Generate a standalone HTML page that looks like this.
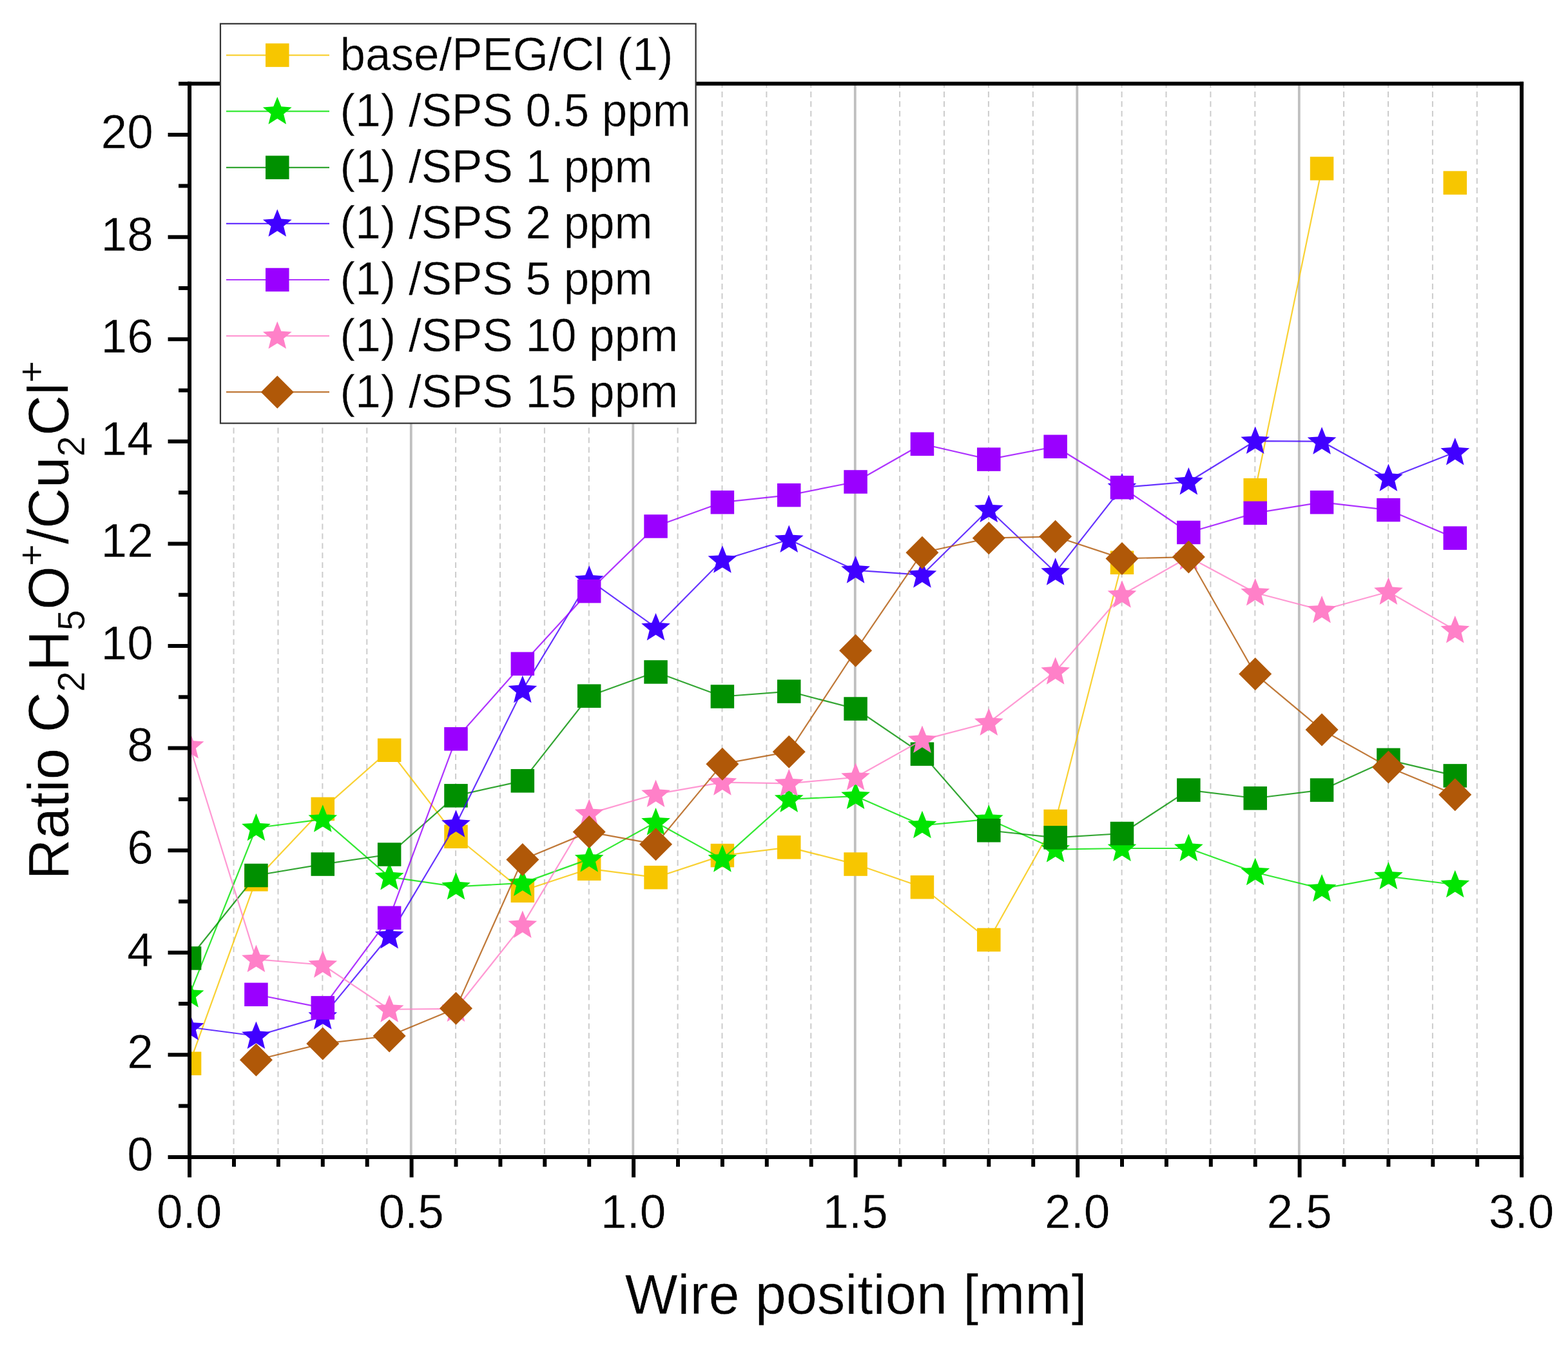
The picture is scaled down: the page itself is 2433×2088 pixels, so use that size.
<!DOCTYPE html>
<html><head><meta charset="utf-8"><title>Ratio vs wire position</title>
<style>html,body{margin:0;padding:0;background:#fff;}svg{display:block;}text{font-family:'Liberation Sans', Arial, sans-serif;fill:#000;stroke:#fff;stroke-width:0.5px;stroke-linejoin:round;}</style></head><body>
<svg width="2433" height="2088" viewBox="0 0 2433 2088">
<rect x="0" y="0" width="2433" height="2088" fill="#fff"/>
<defs><clipPath id="pa"><rect x="294.10" y="129.80" width="2067.00" height="1665.10"/></clipPath></defs>
<g><line x1="362.60" y1="129.80" x2="362.60" y2="1794.90" stroke="#cccccc" stroke-width="2.0" stroke-dasharray="8.8 6.1" stroke-dashoffset="2.6"/><line x1="431.50" y1="129.80" x2="431.50" y2="1794.90" stroke="#cccccc" stroke-width="2.0" stroke-dasharray="8.8 6.1" stroke-dashoffset="2.6"/><line x1="500.40" y1="129.80" x2="500.40" y2="1794.90" stroke="#cccccc" stroke-width="2.0" stroke-dasharray="8.8 6.1" stroke-dashoffset="2.6"/><line x1="569.30" y1="129.80" x2="569.30" y2="1794.90" stroke="#cccccc" stroke-width="2.0" stroke-dasharray="8.8 6.1" stroke-dashoffset="2.6"/><line x1="637.80" y1="129.80" x2="637.80" y2="1794.90" stroke="#bfbfbf" stroke-width="3.8"/><line x1="707.10" y1="129.80" x2="707.10" y2="1794.90" stroke="#cccccc" stroke-width="2.0" stroke-dasharray="8.8 6.1" stroke-dashoffset="2.6"/><line x1="776.00" y1="129.80" x2="776.00" y2="1794.90" stroke="#cccccc" stroke-width="2.0" stroke-dasharray="8.8 6.1" stroke-dashoffset="2.6"/><line x1="844.90" y1="129.80" x2="844.90" y2="1794.90" stroke="#cccccc" stroke-width="2.0" stroke-dasharray="8.8 6.1" stroke-dashoffset="2.6"/><line x1="913.80" y1="129.80" x2="913.80" y2="1794.90" stroke="#cccccc" stroke-width="2.0" stroke-dasharray="8.8 6.1" stroke-dashoffset="2.6"/><line x1="982.30" y1="129.80" x2="982.30" y2="1794.90" stroke="#bfbfbf" stroke-width="3.8"/><line x1="1051.60" y1="129.80" x2="1051.60" y2="1794.90" stroke="#cccccc" stroke-width="2.0" stroke-dasharray="8.8 6.1" stroke-dashoffset="2.6"/><line x1="1120.50" y1="129.80" x2="1120.50" y2="1794.90" stroke="#cccccc" stroke-width="2.0" stroke-dasharray="8.8 6.1" stroke-dashoffset="2.6"/><line x1="1189.40" y1="129.80" x2="1189.40" y2="1794.90" stroke="#cccccc" stroke-width="2.0" stroke-dasharray="8.8 6.1" stroke-dashoffset="2.6"/><line x1="1258.30" y1="129.80" x2="1258.30" y2="1794.90" stroke="#cccccc" stroke-width="2.0" stroke-dasharray="8.8 6.1" stroke-dashoffset="2.6"/><line x1="1326.80" y1="129.80" x2="1326.80" y2="1794.90" stroke="#bfbfbf" stroke-width="3.8"/><line x1="1396.10" y1="129.80" x2="1396.10" y2="1794.90" stroke="#cccccc" stroke-width="2.0" stroke-dasharray="8.8 6.1" stroke-dashoffset="2.6"/><line x1="1465.00" y1="129.80" x2="1465.00" y2="1794.90" stroke="#cccccc" stroke-width="2.0" stroke-dasharray="8.8 6.1" stroke-dashoffset="2.6"/><line x1="1533.90" y1="129.80" x2="1533.90" y2="1794.90" stroke="#cccccc" stroke-width="2.0" stroke-dasharray="8.8 6.1" stroke-dashoffset="2.6"/><line x1="1602.80" y1="129.80" x2="1602.80" y2="1794.90" stroke="#cccccc" stroke-width="2.0" stroke-dasharray="8.8 6.1" stroke-dashoffset="2.6"/><line x1="1671.30" y1="129.80" x2="1671.30" y2="1794.90" stroke="#bfbfbf" stroke-width="3.8"/><line x1="1740.60" y1="129.80" x2="1740.60" y2="1794.90" stroke="#cccccc" stroke-width="2.0" stroke-dasharray="8.8 6.1" stroke-dashoffset="2.6"/><line x1="1809.50" y1="129.80" x2="1809.50" y2="1794.90" stroke="#cccccc" stroke-width="2.0" stroke-dasharray="8.8 6.1" stroke-dashoffset="2.6"/><line x1="1878.40" y1="129.80" x2="1878.40" y2="1794.90" stroke="#cccccc" stroke-width="2.0" stroke-dasharray="8.8 6.1" stroke-dashoffset="2.6"/><line x1="1947.30" y1="129.80" x2="1947.30" y2="1794.90" stroke="#cccccc" stroke-width="2.0" stroke-dasharray="8.8 6.1" stroke-dashoffset="2.6"/><line x1="2015.80" y1="129.80" x2="2015.80" y2="1794.90" stroke="#bfbfbf" stroke-width="3.8"/><line x1="2085.10" y1="129.80" x2="2085.10" y2="1794.90" stroke="#cccccc" stroke-width="2.0" stroke-dasharray="8.8 6.1" stroke-dashoffset="2.6"/><line x1="2154.00" y1="129.80" x2="2154.00" y2="1794.90" stroke="#cccccc" stroke-width="2.0" stroke-dasharray="8.8 6.1" stroke-dashoffset="2.6"/><line x1="2222.90" y1="129.80" x2="2222.90" y2="1794.90" stroke="#cccccc" stroke-width="2.0" stroke-dasharray="8.8 6.1" stroke-dashoffset="2.6"/><line x1="2291.80" y1="129.80" x2="2291.80" y2="1794.90" stroke="#cccccc" stroke-width="2.0" stroke-dasharray="8.8 6.1" stroke-dashoffset="2.6"/></g>
<g clip-path="url(#pa)"><polyline points="294.10,1649.80 397.45,1364.35 500.80,1254.93 604.15,1163.75 707.50,1297.75 810.85,1381.80 914.20,1347.70 1017.55,1361.18 1120.90,1327.09 1224.25,1314.40 1327.60,1340.57 1430.95,1376.25 1534.30,1457.92 1637.65,1273.96 1741.00,872.75" fill="none" stroke="#F7C600" stroke-width="2.20" stroke-opacity="0.8" stroke-linejoin="round"/><polyline points="1947.70,760.16 2051.05,261.42" fill="none" stroke="#F7C600" stroke-width="2.20" stroke-opacity="0.8" stroke-linejoin="round"/><rect x="275.85" y="1631.55" width="36.50" height="36.50" fill="#F7C600"/><rect x="379.20" y="1346.10" width="36.50" height="36.50" fill="#F7C600"/><rect x="482.55" y="1236.68" width="36.50" height="36.50" fill="#F7C600"/><rect x="585.90" y="1145.50" width="36.50" height="36.50" fill="#F7C600"/><rect x="689.25" y="1279.50" width="36.50" height="36.50" fill="#F7C600"/><rect x="792.60" y="1363.55" width="36.50" height="36.50" fill="#F7C600"/><rect x="895.95" y="1329.45" width="36.50" height="36.50" fill="#F7C600"/><rect x="999.30" y="1342.93" width="36.50" height="36.50" fill="#F7C600"/><rect x="1102.65" y="1308.84" width="36.50" height="36.50" fill="#F7C600"/><rect x="1206.00" y="1296.15" width="36.50" height="36.50" fill="#F7C600"/><rect x="1309.35" y="1322.32" width="36.50" height="36.50" fill="#F7C600"/><rect x="1412.70" y="1358.00" width="36.50" height="36.50" fill="#F7C600"/><rect x="1516.05" y="1439.67" width="36.50" height="36.50" fill="#F7C600"/><rect x="1619.40" y="1255.71" width="36.50" height="36.50" fill="#F7C600"/><rect x="1722.75" y="854.50" width="36.50" height="36.50" fill="#F7C600"/><rect x="1929.45" y="741.91" width="36.50" height="36.50" fill="#F7C600"/><rect x="2032.80" y="243.17" width="36.50" height="36.50" fill="#F7C600"/><rect x="2239.50" y="265.37" width="36.50" height="36.50" fill="#F7C600"/><polyline points="294.10,1542.76 397.45,1284.27 500.80,1270.79 604.15,1360.39 707.50,1375.45 810.85,1369.90 914.20,1332.64 1017.55,1275.55 1120.90,1332.64 1224.25,1239.87 1327.60,1235.11 1430.95,1280.30 1534.30,1270.79 1637.65,1317.57 1741.00,1315.99 1844.35,1315.99 1947.70,1353.25 2051.05,1378.62 2154.40,1359.60 2257.75,1372.28" fill="none" stroke="#00E400" stroke-width="2.20" stroke-opacity="0.8" stroke-linejoin="round"/><polygon points="294.10,1520.26 300.18,1535.39 316.45,1536.49 303.93,1546.95 307.91,1562.77 294.10,1554.10 280.29,1562.77 284.27,1546.95 271.75,1536.49 288.02,1535.39" fill="#00E400"/><polygon points="397.45,1261.77 403.53,1276.90 419.80,1278.01 407.28,1288.46 411.26,1304.28 397.45,1295.61 383.64,1304.28 387.62,1288.46 375.10,1278.01 391.37,1276.90" fill="#00E400"/><polygon points="500.80,1248.29 506.88,1263.42 523.15,1264.53 510.63,1274.99 514.61,1290.80 500.80,1282.13 486.99,1290.80 490.97,1274.99 478.45,1264.53 494.72,1263.42" fill="#00E400"/><polygon points="604.15,1337.89 610.23,1353.02 626.50,1354.13 613.98,1364.58 617.96,1380.40 604.15,1371.73 590.34,1380.40 594.32,1364.58 581.80,1354.13 598.07,1353.02" fill="#00E400"/><polygon points="707.50,1352.95 713.58,1368.09 729.85,1369.19 717.33,1379.65 721.31,1395.47 707.50,1386.79 693.69,1395.47 697.67,1379.65 685.15,1369.19 701.42,1368.09" fill="#00E400"/><polygon points="810.85,1347.40 816.93,1362.54 833.20,1363.64 820.68,1374.10 824.66,1389.91 810.85,1381.24 797.04,1389.91 801.02,1374.10 788.50,1363.64 804.77,1362.54" fill="#00E400"/><polygon points="914.20,1310.14 920.28,1325.27 936.55,1326.37 924.03,1336.83 928.01,1352.65 914.20,1343.98 900.39,1352.65 904.37,1336.83 891.85,1326.37 908.12,1325.27" fill="#00E400"/><polygon points="1017.55,1253.05 1023.63,1268.18 1039.90,1269.29 1027.38,1279.74 1031.36,1295.56 1017.55,1286.89 1003.74,1295.56 1007.72,1279.74 995.20,1269.29 1011.47,1268.18" fill="#00E400"/><polygon points="1120.90,1310.14 1126.98,1325.27 1143.25,1326.37 1130.73,1336.83 1134.71,1352.65 1120.90,1343.98 1107.09,1352.65 1111.07,1336.83 1098.55,1326.37 1114.82,1325.27" fill="#00E400"/><polygon points="1224.25,1217.37 1230.33,1232.50 1246.60,1233.60 1234.08,1244.06 1238.06,1259.88 1224.25,1251.21 1210.44,1259.88 1214.42,1244.06 1201.90,1233.60 1218.17,1232.50" fill="#00E400"/><polygon points="1327.60,1212.61 1333.68,1227.74 1349.95,1228.85 1337.43,1239.30 1341.41,1255.12 1327.60,1246.45 1313.79,1255.12 1317.77,1239.30 1305.25,1228.85 1321.52,1227.74" fill="#00E400"/><polygon points="1430.95,1257.80 1437.03,1272.94 1453.30,1274.04 1440.78,1284.50 1444.76,1300.32 1430.95,1291.64 1417.14,1300.32 1421.12,1284.50 1408.60,1274.04 1424.87,1272.94" fill="#00E400"/><polygon points="1534.30,1248.29 1540.38,1263.42 1556.65,1264.53 1544.13,1274.99 1548.11,1290.80 1534.30,1282.13 1520.49,1290.80 1524.47,1274.99 1511.95,1264.53 1528.22,1263.42" fill="#00E400"/><polygon points="1637.65,1295.07 1643.73,1310.21 1660.00,1311.31 1647.48,1321.77 1651.46,1337.58 1637.65,1328.91 1623.84,1337.58 1627.82,1321.77 1615.30,1311.31 1631.57,1310.21" fill="#00E400"/><polygon points="1741.00,1293.49 1747.08,1308.62 1763.35,1309.72 1750.83,1320.18 1754.81,1336.00 1741.00,1327.33 1727.19,1336.00 1731.17,1320.18 1718.65,1309.72 1734.92,1308.62" fill="#00E400"/><polygon points="1844.35,1293.49 1850.43,1308.62 1866.70,1309.72 1854.18,1320.18 1858.16,1336.00 1844.35,1327.33 1830.54,1336.00 1834.52,1320.18 1822.00,1309.72 1838.27,1308.62" fill="#00E400"/><polygon points="1947.70,1330.75 1953.78,1345.89 1970.05,1346.99 1957.53,1357.45 1961.51,1373.26 1947.70,1364.59 1933.89,1373.26 1937.87,1357.45 1925.35,1346.99 1941.62,1345.89" fill="#00E400"/><polygon points="2051.05,1356.12 2057.13,1371.26 2073.40,1372.36 2060.88,1382.82 2064.86,1398.64 2051.05,1389.96 2037.24,1398.64 2041.22,1382.82 2028.70,1372.36 2044.97,1371.26" fill="#00E400"/><polygon points="2154.40,1337.10 2160.48,1352.23 2176.75,1353.33 2164.23,1363.79 2168.21,1379.61 2154.40,1370.94 2140.59,1379.61 2144.57,1363.79 2132.05,1353.33 2148.32,1352.23" fill="#00E400"/><polygon points="2257.75,1349.78 2263.83,1364.92 2280.10,1366.02 2267.58,1376.48 2271.56,1392.29 2257.75,1383.62 2243.94,1392.29 2247.92,1376.48 2235.40,1366.02 2251.67,1364.92" fill="#00E400"/><polyline points="294.10,1486.46 397.45,1358.01 500.80,1340.57 604.15,1325.50 707.50,1234.32 810.85,1211.32 914.20,1079.70 1017.55,1042.43 1120.90,1080.49 1224.25,1072.56 1327.60,1099.52 1430.95,1169.69 1534.30,1288.23 1637.65,1299.33 1741.00,1292.99 1844.35,1225.59 1947.70,1238.28 2051.05,1225.59 2154.40,1178.81 2257.75,1203.39" fill="none" stroke="#009000" stroke-width="2.20" stroke-opacity="0.8" stroke-linejoin="round"/><rect x="275.85" y="1468.21" width="36.50" height="36.50" fill="#009000"/><rect x="379.20" y="1339.76" width="36.50" height="36.50" fill="#009000"/><rect x="482.55" y="1322.32" width="36.50" height="36.50" fill="#009000"/><rect x="585.90" y="1307.25" width="36.50" height="36.50" fill="#009000"/><rect x="689.25" y="1216.07" width="36.50" height="36.50" fill="#009000"/><rect x="792.60" y="1193.07" width="36.50" height="36.50" fill="#009000"/><rect x="895.95" y="1061.45" width="36.50" height="36.50" fill="#009000"/><rect x="999.30" y="1024.18" width="36.50" height="36.50" fill="#009000"/><rect x="1102.65" y="1062.24" width="36.50" height="36.50" fill="#009000"/><rect x="1206.00" y="1054.31" width="36.50" height="36.50" fill="#009000"/><rect x="1309.35" y="1081.27" width="36.50" height="36.50" fill="#009000"/><rect x="1412.70" y="1151.44" width="36.50" height="36.50" fill="#009000"/><rect x="1516.05" y="1269.98" width="36.50" height="36.50" fill="#009000"/><rect x="1619.40" y="1281.08" width="36.50" height="36.50" fill="#009000"/><rect x="1722.75" y="1274.74" width="36.50" height="36.50" fill="#009000"/><rect x="1826.10" y="1207.34" width="36.50" height="36.50" fill="#009000"/><rect x="1929.45" y="1220.03" width="36.50" height="36.50" fill="#009000"/><rect x="2032.80" y="1207.34" width="36.50" height="36.50" fill="#009000"/><rect x="2136.15" y="1160.56" width="36.50" height="36.50" fill="#009000"/><rect x="2239.50" y="1185.14" width="36.50" height="36.50" fill="#009000"/><polyline points="294.10,1593.50 397.45,1606.98 500.80,1576.85 604.15,1451.57 707.50,1278.72 810.85,1070.19 914.20,899.71 1017.55,973.45 1120.90,868.79 1224.25,837.07 1327.60,884.65 1430.95,891.78 1534.30,790.29 1637.65,887.82 1741.00,756.19 1844.35,747.47 1947.70,684.04 2051.05,684.83 2154.40,741.92 2257.75,701.48" fill="none" stroke="#4000FF" stroke-width="2.20" stroke-opacity="0.8" stroke-linejoin="round"/><polygon points="294.10,1571.00 300.18,1586.14 316.45,1587.24 303.93,1597.70 307.91,1613.51 294.10,1604.84 280.29,1613.51 284.27,1597.70 271.75,1587.24 288.02,1586.14" fill="#4000FF"/><polygon points="397.45,1584.48 403.53,1599.62 419.80,1600.72 407.28,1611.18 411.26,1626.99 397.45,1618.32 383.64,1626.99 387.62,1611.18 375.10,1600.72 391.37,1599.62" fill="#4000FF"/><polygon points="500.80,1554.35 506.88,1569.49 523.15,1570.59 510.63,1581.05 514.61,1596.86 500.80,1588.19 486.99,1596.86 490.97,1581.05 478.45,1570.59 494.72,1569.49" fill="#4000FF"/><polygon points="604.15,1429.07 610.23,1444.21 626.50,1445.31 613.98,1455.77 617.96,1471.58 604.15,1462.91 590.34,1471.58 594.32,1455.77 581.80,1445.31 598.07,1444.21" fill="#4000FF"/><polygon points="707.50,1256.22 713.58,1271.35 729.85,1272.46 717.33,1282.91 721.31,1298.73 707.50,1290.06 693.69,1298.73 697.67,1282.91 685.15,1272.46 701.42,1271.35" fill="#4000FF"/><polygon points="810.85,1047.69 816.93,1062.82 833.20,1063.92 820.68,1074.38 824.66,1090.20 810.85,1081.53 797.04,1090.20 801.02,1074.38 788.50,1063.92 804.77,1062.82" fill="#4000FF"/><polygon points="914.20,877.21 920.28,892.35 936.55,893.45 924.03,903.91 928.01,919.72 914.20,911.05 900.39,919.72 904.37,903.91 891.85,893.45 908.12,892.35" fill="#4000FF"/><polygon points="1017.55,950.95 1023.63,966.09 1039.90,967.19 1027.38,977.65 1031.36,993.46 1017.55,984.79 1003.74,993.46 1007.72,977.65 995.20,967.19 1011.47,966.09" fill="#4000FF"/><polygon points="1120.90,846.29 1126.98,861.42 1143.25,862.53 1130.73,872.98 1134.71,888.80 1120.90,880.13 1107.09,888.80 1111.07,872.98 1098.55,862.53 1114.82,861.42" fill="#4000FF"/><polygon points="1224.25,814.57 1230.33,829.71 1246.60,830.81 1234.08,841.27 1238.06,857.08 1224.25,848.41 1210.44,857.08 1214.42,841.27 1201.90,830.81 1218.17,829.71" fill="#4000FF"/><polygon points="1327.60,862.15 1333.68,877.28 1349.95,878.38 1337.43,888.84 1341.41,904.66 1327.60,895.99 1313.79,904.66 1317.77,888.84 1305.25,878.38 1321.52,877.28" fill="#4000FF"/><polygon points="1430.95,869.28 1437.03,884.42 1453.30,885.52 1440.78,895.98 1444.76,911.79 1430.95,903.12 1417.14,911.79 1421.12,895.98 1408.60,885.52 1424.87,884.42" fill="#4000FF"/><polygon points="1534.30,767.79 1540.38,782.92 1556.65,784.03 1544.13,794.48 1548.11,810.30 1534.30,801.63 1520.49,810.30 1524.47,794.48 1511.95,784.03 1528.22,782.92" fill="#4000FF"/><polygon points="1637.65,865.32 1643.73,880.45 1660.00,881.56 1647.48,892.01 1651.46,907.83 1637.65,899.16 1623.84,907.83 1627.82,892.01 1615.30,881.56 1631.57,880.45" fill="#4000FF"/><polygon points="1741.00,733.69 1747.08,748.83 1763.35,749.93 1750.83,760.39 1754.81,776.21 1741.00,767.53 1727.19,776.21 1731.17,760.39 1718.65,749.93 1734.92,748.83" fill="#4000FF"/><polygon points="1844.35,724.97 1850.43,740.11 1866.70,741.21 1854.18,751.67 1858.16,767.48 1844.35,758.81 1830.54,767.48 1834.52,751.67 1822.00,741.21 1838.27,740.11" fill="#4000FF"/><polygon points="1947.70,661.54 1953.78,676.68 1970.05,677.78 1957.53,688.24 1961.51,704.05 1947.70,695.38 1933.89,704.05 1937.87,688.24 1925.35,677.78 1941.62,676.68" fill="#4000FF"/><polygon points="2051.05,662.33 2057.13,677.47 2073.40,678.57 2060.88,689.03 2064.86,704.85 2051.05,696.17 2037.24,704.85 2041.22,689.03 2028.70,678.57 2044.97,677.47" fill="#4000FF"/><polygon points="2154.40,719.42 2160.48,734.56 2176.75,735.66 2164.23,746.12 2168.21,761.93 2154.40,753.26 2140.59,761.93 2144.57,746.12 2132.05,735.66 2148.32,734.56" fill="#4000FF"/><polygon points="2257.75,678.98 2263.83,694.12 2280.10,695.22 2267.58,705.68 2271.56,721.50 2257.75,712.82 2243.94,721.50 2247.92,705.68 2235.40,695.22 2251.67,694.12" fill="#4000FF"/><polyline points="397.45,1542.76 500.80,1563.37 604.15,1423.82 707.50,1146.30 810.85,1029.75 914.20,917.15 1017.55,816.46 1120.90,779.19 1224.25,768.09 1327.60,747.47 1430.95,688.80 1534.30,712.59 1637.65,692.76 1741.00,756.19 1844.35,825.97 1947.70,795.84 2051.05,779.19 2154.40,791.08 2257.75,834.69" fill="none" stroke="#9A00FF" stroke-width="2.20" stroke-opacity="0.8" stroke-linejoin="round"/><rect x="379.20" y="1524.51" width="36.50" height="36.50" fill="#9A00FF"/><rect x="482.55" y="1545.12" width="36.50" height="36.50" fill="#9A00FF"/><rect x="585.90" y="1405.57" width="36.50" height="36.50" fill="#9A00FF"/><rect x="689.25" y="1128.05" width="36.50" height="36.50" fill="#9A00FF"/><rect x="792.60" y="1011.50" width="36.50" height="36.50" fill="#9A00FF"/><rect x="895.95" y="898.90" width="36.50" height="36.50" fill="#9A00FF"/><rect x="999.30" y="798.21" width="36.50" height="36.50" fill="#9A00FF"/><rect x="1102.65" y="760.94" width="36.50" height="36.50" fill="#9A00FF"/><rect x="1206.00" y="749.84" width="36.50" height="36.50" fill="#9A00FF"/><rect x="1309.35" y="729.22" width="36.50" height="36.50" fill="#9A00FF"/><rect x="1412.70" y="670.55" width="36.50" height="36.50" fill="#9A00FF"/><rect x="1516.05" y="694.34" width="36.50" height="36.50" fill="#9A00FF"/><rect x="1619.40" y="674.51" width="36.50" height="36.50" fill="#9A00FF"/><rect x="1722.75" y="737.94" width="36.50" height="36.50" fill="#9A00FF"/><rect x="1826.10" y="807.72" width="36.50" height="36.50" fill="#9A00FF"/><rect x="1929.45" y="777.59" width="36.50" height="36.50" fill="#9A00FF"/><rect x="2032.80" y="760.94" width="36.50" height="36.50" fill="#9A00FF"/><rect x="2136.15" y="772.83" width="36.50" height="36.50" fill="#9A00FF"/><rect x="2239.50" y="816.44" width="36.50" height="36.50" fill="#9A00FF"/><polyline points="294.10,1156.61 397.45,1488.05 500.80,1496.77 604.15,1565.75 707.50,1564.96 810.85,1434.92 914.20,1262.07 1017.55,1231.94 1120.90,1213.70 1224.25,1215.29 1327.60,1205.77 1430.95,1147.89 1534.30,1120.93 1637.65,1041.64 1741.00,922.70 1844.35,864.03 1947.70,919.53 2051.05,946.49 2154.40,917.95 2257.75,977.42" fill="none" stroke="#FF80C8" stroke-width="2.20" stroke-opacity="0.8" stroke-linejoin="round"/><polygon points="294.10,1134.11 300.18,1149.25 316.45,1150.35 303.93,1160.81 307.91,1176.62 294.10,1167.95 280.29,1176.62 284.27,1160.81 271.75,1150.35 288.02,1149.25" fill="#FF80C8"/><polygon points="397.45,1465.55 403.53,1480.68 419.80,1481.78 407.28,1492.24 411.26,1508.06 397.45,1499.39 383.64,1508.06 387.62,1492.24 375.10,1481.78 391.37,1480.68" fill="#FF80C8"/><polygon points="500.80,1474.27 506.88,1489.40 523.15,1490.51 510.63,1500.96 514.61,1516.78 500.80,1508.11 486.99,1516.78 490.97,1500.96 478.45,1490.51 494.72,1489.40" fill="#FF80C8"/><polygon points="604.15,1543.25 610.23,1558.39 626.50,1559.49 613.98,1569.95 617.96,1585.76 604.15,1577.09 590.34,1585.76 594.32,1569.95 581.80,1559.49 598.07,1558.39" fill="#FF80C8"/><polygon points="707.50,1542.46 713.58,1557.59 729.85,1558.70 717.33,1569.15 721.31,1584.97 707.50,1576.30 693.69,1584.97 697.67,1569.15 685.15,1558.70 701.42,1557.59" fill="#FF80C8"/><polygon points="810.85,1412.42 816.93,1427.56 833.20,1428.66 820.68,1439.12 824.66,1454.93 810.85,1446.26 797.04,1454.93 801.02,1439.12 788.50,1428.66 804.77,1427.56" fill="#FF80C8"/><polygon points="914.20,1239.57 920.28,1254.70 936.55,1255.81 924.03,1266.26 928.01,1282.08 914.20,1273.41 900.39,1282.08 904.37,1266.26 891.85,1255.81 908.12,1254.70" fill="#FF80C8"/><polygon points="1017.55,1209.44 1023.63,1224.57 1039.90,1225.68 1027.38,1236.13 1031.36,1251.95 1017.55,1243.28 1003.74,1251.95 1007.72,1236.13 995.20,1225.68 1011.47,1224.57" fill="#FF80C8"/><polygon points="1120.90,1191.20 1126.98,1206.34 1143.25,1207.44 1130.73,1217.90 1134.71,1233.71 1120.90,1225.04 1107.09,1233.71 1111.07,1217.90 1098.55,1207.44 1114.82,1206.34" fill="#FF80C8"/><polygon points="1224.25,1192.79 1230.33,1207.92 1246.60,1209.02 1234.08,1219.48 1238.06,1235.30 1224.25,1226.63 1210.44,1235.30 1214.42,1219.48 1201.90,1209.02 1218.17,1207.92" fill="#FF80C8"/><polygon points="1327.60,1183.27 1333.68,1198.41 1349.95,1199.51 1337.43,1209.97 1341.41,1225.78 1327.60,1217.11 1313.79,1225.78 1317.77,1209.97 1305.25,1199.51 1321.52,1198.41" fill="#FF80C8"/><polygon points="1430.95,1125.39 1437.03,1140.52 1453.30,1141.63 1440.78,1152.08 1444.76,1167.90 1430.95,1159.23 1417.14,1167.90 1421.12,1152.08 1408.60,1141.63 1424.87,1140.52" fill="#FF80C8"/><polygon points="1534.30,1098.43 1540.38,1113.57 1556.65,1114.67 1544.13,1125.13 1548.11,1140.94 1534.30,1132.27 1520.49,1140.94 1524.47,1125.13 1511.95,1114.67 1528.22,1113.57" fill="#FF80C8"/><polygon points="1637.65,1019.14 1643.73,1034.28 1660.00,1035.38 1647.48,1045.84 1651.46,1061.65 1637.65,1052.98 1623.84,1061.65 1627.82,1045.84 1615.30,1035.38 1631.57,1034.28" fill="#FF80C8"/><polygon points="1741.00,900.20 1747.08,915.34 1763.35,916.44 1750.83,926.90 1754.81,942.72 1741.00,934.04 1727.19,942.72 1731.17,926.90 1718.65,916.44 1734.92,915.34" fill="#FF80C8"/><polygon points="1844.35,841.53 1850.43,856.66 1866.70,857.77 1854.18,868.23 1858.16,884.04 1844.35,875.37 1830.54,884.04 1834.52,868.23 1822.00,857.77 1838.27,856.66" fill="#FF80C8"/><polygon points="1947.70,897.03 1953.78,912.17 1970.05,913.27 1957.53,923.73 1961.51,939.55 1947.70,930.87 1933.89,939.55 1937.87,923.73 1925.35,913.27 1941.62,912.17" fill="#FF80C8"/><polygon points="2051.05,923.99 2057.13,939.13 2073.40,940.23 2060.88,950.69 2064.86,966.50 2051.05,957.83 2037.24,966.50 2041.22,950.69 2028.70,940.23 2044.97,939.13" fill="#FF80C8"/><polygon points="2154.40,895.45 2160.48,910.58 2176.75,911.69 2164.23,922.14 2168.21,937.96 2154.40,929.29 2140.59,937.96 2144.57,922.14 2132.05,911.69 2148.32,910.58" fill="#FF80C8"/><polygon points="2257.75,954.92 2263.83,970.05 2280.10,971.15 2267.58,981.61 2271.56,997.43 2257.75,988.76 2243.94,997.43 2247.92,981.61 2235.40,971.15 2251.67,970.05" fill="#FF80C8"/><polyline points="397.45,1644.25 500.80,1618.88 604.15,1606.98 707.50,1564.16 810.85,1333.43 914.20,1290.61 1017.55,1309.64 1120.90,1185.16 1224.25,1166.13 1327.60,1009.13 1430.95,857.29 1534.30,834.69 1637.65,832.31 1741.00,866.41 1844.35,864.03 1947.70,1045.61 2051.05,1132.03 2154.40,1189.91 2257.75,1232.73" fill="none" stroke="#B05808" stroke-width="2.20" stroke-opacity="0.8" stroke-linejoin="round"/><polygon points="397.45,1618.75 422.95,1644.25 397.45,1669.75 371.95,1644.25" fill="#B05808"/><polygon points="500.80,1593.38 526.30,1618.88 500.80,1644.38 475.30,1618.88" fill="#B05808"/><polygon points="604.15,1581.48 629.65,1606.98 604.15,1632.48 578.65,1606.98" fill="#B05808"/><polygon points="707.50,1538.66 733.00,1564.16 707.50,1589.66 682.00,1564.16" fill="#B05808"/><polygon points="810.85,1307.93 836.35,1333.43 810.85,1358.93 785.35,1333.43" fill="#B05808"/><polygon points="914.20,1265.11 939.70,1290.61 914.20,1316.11 888.70,1290.61" fill="#B05808"/><polygon points="1017.55,1284.14 1043.05,1309.64 1017.55,1335.14 992.05,1309.64" fill="#B05808"/><polygon points="1120.90,1159.66 1146.40,1185.16 1120.90,1210.66 1095.40,1185.16" fill="#B05808"/><polygon points="1224.25,1140.63 1249.75,1166.13 1224.25,1191.63 1198.75,1166.13" fill="#B05808"/><polygon points="1327.60,983.63 1353.10,1009.13 1327.60,1034.63 1302.10,1009.13" fill="#B05808"/><polygon points="1430.95,831.79 1456.45,857.29 1430.95,882.79 1405.45,857.29" fill="#B05808"/><polygon points="1534.30,809.19 1559.80,834.69 1534.30,860.19 1508.80,834.69" fill="#B05808"/><polygon points="1637.65,806.81 1663.15,832.31 1637.65,857.81 1612.15,832.31" fill="#B05808"/><polygon points="1741.00,840.91 1766.50,866.41 1741.00,891.91 1715.50,866.41" fill="#B05808"/><polygon points="1844.35,838.53 1869.85,864.03 1844.35,889.53 1818.85,864.03" fill="#B05808"/><polygon points="1947.70,1020.11 1973.20,1045.61 1947.70,1071.11 1922.20,1045.61" fill="#B05808"/><polygon points="2051.05,1106.53 2076.55,1132.03 2051.05,1157.53 2025.55,1132.03" fill="#B05808"/><polygon points="2154.40,1164.41 2179.90,1189.91 2154.40,1215.41 2128.90,1189.91" fill="#B05808"/><polygon points="2257.75,1207.23 2283.25,1232.73 2257.75,1258.23 2232.25,1232.73" fill="#B05808"/></g>
<g><line x1="294.10" y1="126.80" x2="294.10" y2="1797.90" stroke="#000" stroke-width="6.00"/><line x1="2361.10" y1="126.80" x2="2361.10" y2="1797.90" stroke="#000" stroke-width="6.00"/><line x1="291.10" y1="1794.90" x2="2364.10" y2="1794.90" stroke="#000" stroke-width="6.00"/><line x1="291.10" y1="129.80" x2="2364.10" y2="129.80" stroke="#000" stroke-width="6.00"/><line x1="260.60" y1="1794.90" x2="294.10" y2="1794.90" stroke="#000" stroke-width="6.00"/><line x1="277.10" y1="1715.61" x2="294.10" y2="1715.61" stroke="#000" stroke-width="6.00"/><line x1="260.60" y1="1636.32" x2="294.10" y2="1636.32" stroke="#000" stroke-width="6.00"/><line x1="277.10" y1="1557.03" x2="294.10" y2="1557.03" stroke="#000" stroke-width="6.00"/><line x1="260.60" y1="1477.74" x2="294.10" y2="1477.74" stroke="#000" stroke-width="6.00"/><line x1="277.10" y1="1398.45" x2="294.10" y2="1398.45" stroke="#000" stroke-width="6.00"/><line x1="260.60" y1="1319.16" x2="294.10" y2="1319.16" stroke="#000" stroke-width="6.00"/><line x1="277.10" y1="1239.87" x2="294.10" y2="1239.87" stroke="#000" stroke-width="6.00"/><line x1="260.60" y1="1160.58" x2="294.10" y2="1160.58" stroke="#000" stroke-width="6.00"/><line x1="277.10" y1="1081.29" x2="294.10" y2="1081.29" stroke="#000" stroke-width="6.00"/><line x1="260.60" y1="1002.00" x2="294.10" y2="1002.00" stroke="#000" stroke-width="6.00"/><line x1="277.10" y1="922.70" x2="294.10" y2="922.70" stroke="#000" stroke-width="6.00"/><line x1="260.60" y1="843.41" x2="294.10" y2="843.41" stroke="#000" stroke-width="6.00"/><line x1="277.10" y1="764.12" x2="294.10" y2="764.12" stroke="#000" stroke-width="6.00"/><line x1="260.60" y1="684.83" x2="294.10" y2="684.83" stroke="#000" stroke-width="6.00"/><line x1="277.10" y1="605.54" x2="294.10" y2="605.54" stroke="#000" stroke-width="6.00"/><line x1="260.60" y1="526.25" x2="294.10" y2="526.25" stroke="#000" stroke-width="6.00"/><line x1="277.10" y1="446.96" x2="294.10" y2="446.96" stroke="#000" stroke-width="6.00"/><line x1="260.60" y1="367.67" x2="294.10" y2="367.67" stroke="#000" stroke-width="6.00"/><line x1="277.10" y1="288.38" x2="294.10" y2="288.38" stroke="#000" stroke-width="6.00"/><line x1="260.60" y1="209.09" x2="294.10" y2="209.09" stroke="#000" stroke-width="6.00"/><line x1="277.10" y1="129.80" x2="294.10" y2="129.80" stroke="#000" stroke-width="6.00"/><line x1="294.10" y1="1794.90" x2="294.10" y2="1826.40" stroke="#000" stroke-width="6.00"/><line x1="363.00" y1="1794.90" x2="363.00" y2="1809.90" stroke="#000" stroke-width="6.00"/><line x1="431.90" y1="1794.90" x2="431.90" y2="1809.90" stroke="#000" stroke-width="6.00"/><line x1="500.80" y1="1794.90" x2="500.80" y2="1809.90" stroke="#000" stroke-width="6.00"/><line x1="569.70" y1="1794.90" x2="569.70" y2="1809.90" stroke="#000" stroke-width="6.00"/><line x1="638.60" y1="1794.90" x2="638.60" y2="1826.40" stroke="#000" stroke-width="6.00"/><line x1="707.50" y1="1794.90" x2="707.50" y2="1809.90" stroke="#000" stroke-width="6.00"/><line x1="776.40" y1="1794.90" x2="776.40" y2="1809.90" stroke="#000" stroke-width="6.00"/><line x1="845.30" y1="1794.90" x2="845.30" y2="1809.90" stroke="#000" stroke-width="6.00"/><line x1="914.20" y1="1794.90" x2="914.20" y2="1809.90" stroke="#000" stroke-width="6.00"/><line x1="983.10" y1="1794.90" x2="983.10" y2="1826.40" stroke="#000" stroke-width="6.00"/><line x1="1052.00" y1="1794.90" x2="1052.00" y2="1809.90" stroke="#000" stroke-width="6.00"/><line x1="1120.90" y1="1794.90" x2="1120.90" y2="1809.90" stroke="#000" stroke-width="6.00"/><line x1="1189.80" y1="1794.90" x2="1189.80" y2="1809.90" stroke="#000" stroke-width="6.00"/><line x1="1258.70" y1="1794.90" x2="1258.70" y2="1809.90" stroke="#000" stroke-width="6.00"/><line x1="1327.60" y1="1794.90" x2="1327.60" y2="1826.40" stroke="#000" stroke-width="6.00"/><line x1="1396.50" y1="1794.90" x2="1396.50" y2="1809.90" stroke="#000" stroke-width="6.00"/><line x1="1465.40" y1="1794.90" x2="1465.40" y2="1809.90" stroke="#000" stroke-width="6.00"/><line x1="1534.30" y1="1794.90" x2="1534.30" y2="1809.90" stroke="#000" stroke-width="6.00"/><line x1="1603.20" y1="1794.90" x2="1603.20" y2="1809.90" stroke="#000" stroke-width="6.00"/><line x1="1672.10" y1="1794.90" x2="1672.10" y2="1826.40" stroke="#000" stroke-width="6.00"/><line x1="1741.00" y1="1794.90" x2="1741.00" y2="1809.90" stroke="#000" stroke-width="6.00"/><line x1="1809.90" y1="1794.90" x2="1809.90" y2="1809.90" stroke="#000" stroke-width="6.00"/><line x1="1878.80" y1="1794.90" x2="1878.80" y2="1809.90" stroke="#000" stroke-width="6.00"/><line x1="1947.70" y1="1794.90" x2="1947.70" y2="1809.90" stroke="#000" stroke-width="6.00"/><line x1="2016.60" y1="1794.90" x2="2016.60" y2="1826.40" stroke="#000" stroke-width="6.00"/><line x1="2085.50" y1="1794.90" x2="2085.50" y2="1809.90" stroke="#000" stroke-width="6.00"/><line x1="2154.40" y1="1794.90" x2="2154.40" y2="1809.90" stroke="#000" stroke-width="6.00"/><line x1="2223.30" y1="1794.90" x2="2223.30" y2="1809.90" stroke="#000" stroke-width="6.00"/><line x1="2292.20" y1="1794.90" x2="2292.20" y2="1809.90" stroke="#000" stroke-width="6.00"/><line x1="2361.10" y1="1794.90" x2="2361.10" y2="1826.40" stroke="#000" stroke-width="6.00"/></g>
<g><text transform="translate(237.8 1815.80) scale(1 1.020)" font-size="73" text-anchor="end">0</text><text transform="translate(237.8 1657.22) scale(1 1.020)" font-size="73" text-anchor="end">2</text><text transform="translate(237.8 1498.64) scale(1 1.020)" font-size="73" text-anchor="end">4</text><text transform="translate(237.8 1340.06) scale(1 1.020)" font-size="73" text-anchor="end">6</text><text transform="translate(237.8 1181.48) scale(1 1.020)" font-size="73" text-anchor="end">8</text><text transform="translate(237.8 1022.90) scale(1 1.020)" font-size="73" text-anchor="end">10</text><text transform="translate(237.8 864.31) scale(1 1.020)" font-size="73" text-anchor="end">12</text><text transform="translate(237.8 705.73) scale(1 1.020)" font-size="73" text-anchor="end">14</text><text transform="translate(237.8 547.15) scale(1 1.020)" font-size="73" text-anchor="end">16</text><text transform="translate(237.8 388.57) scale(1 1.020)" font-size="73" text-anchor="end">18</text><text transform="translate(237.8 229.99) scale(1 1.020)" font-size="73" text-anchor="end">20</text><text transform="translate(293.60 1904.80) scale(1 1.020)" font-size="73" text-anchor="middle">0.0</text><text transform="translate(638.10 1904.80) scale(1 1.020)" font-size="73" text-anchor="middle">0.5</text><text transform="translate(982.60 1904.80) scale(1 1.020)" font-size="73" text-anchor="middle">1.0</text><text transform="translate(1327.10 1904.80) scale(1 1.020)" font-size="73" text-anchor="middle">1.5</text><text transform="translate(1671.60 1904.80) scale(1 1.020)" font-size="73" text-anchor="middle">2.0</text><text transform="translate(2016.10 1904.80) scale(1 1.020)" font-size="73" text-anchor="middle">2.5</text><text transform="translate(2360.60 1904.80) scale(1 1.020)" font-size="73" text-anchor="middle">3.0</text></g>
<text transform="translate(1328.10 2037.7) scale(1 1.0)" font-size="86.6" text-anchor="middle">Wire position [mm]</text>
<text transform="translate(106.4 962.2) rotate(-90) scale(1 1.02)" font-size="87.3" text-anchor="middle">Ratio C<tspan font-size="58" dy="24">2</tspan><tspan dy="-24">H</tspan><tspan font-size="58" dy="24">5</tspan><tspan dy="-24">O</tspan><tspan font-size="58" dy="-37">+</tspan><tspan dy="37">/Cu</tspan><tspan font-size="58" dy="24">2</tspan><tspan dy="-24">Cl</tspan><tspan font-size="58" dy="-37">+</tspan></text>
<g><rect x="342.00" y="36.80" width="737.60" height="619.80" fill="#fff" stroke="#333" stroke-width="2.2"/><line x1="351" y1="85.60" x2="511" y2="85.60" stroke="#F7C600" stroke-width="2.20" stroke-opacity="0.8"/><rect x="412.05" y="67.35" width="36.50" height="36.50" fill="#F7C600"/><text transform="translate(527.5 109.00) scale(1 1.015)" font-size="71">base/PEG/Cl (1)</text><line x1="351" y1="172.70" x2="511" y2="172.70" stroke="#00E400" stroke-width="2.20" stroke-opacity="0.8"/><polygon points="430.30,150.20 436.38,165.33 452.65,166.44 440.13,176.90 444.11,192.71 430.30,184.04 416.49,192.71 420.47,176.90 407.95,166.44 424.22,165.33" fill="#00E400"/><text transform="translate(527.5 196.10) scale(1 1.015)" font-size="71">(1) /SPS 0.5 ppm</text><line x1="351" y1="259.80" x2="511" y2="259.80" stroke="#009000" stroke-width="2.20" stroke-opacity="0.8"/><rect x="412.05" y="241.55" width="36.50" height="36.50" fill="#009000"/><text transform="translate(527.5 283.20) scale(1 1.015)" font-size="71">(1) /SPS 1 ppm</text><line x1="351" y1="346.90" x2="511" y2="346.90" stroke="#4000FF" stroke-width="2.20" stroke-opacity="0.8"/><polygon points="430.30,324.40 436.38,339.53 452.65,340.64 440.13,351.10 444.11,366.91 430.30,358.24 416.49,366.91 420.47,351.10 407.95,340.64 424.22,339.53" fill="#4000FF"/><text transform="translate(527.5 370.30) scale(1 1.015)" font-size="71">(1) /SPS 2 ppm</text><line x1="351" y1="434.00" x2="511" y2="434.00" stroke="#9A00FF" stroke-width="2.20" stroke-opacity="0.8"/><rect x="412.05" y="415.75" width="36.50" height="36.50" fill="#9A00FF"/><text transform="translate(527.5 457.40) scale(1 1.015)" font-size="71">(1) /SPS 5 ppm</text><line x1="351" y1="521.10" x2="511" y2="521.10" stroke="#FF80C8" stroke-width="2.20" stroke-opacity="0.8"/><polygon points="430.30,498.60 436.38,513.73 452.65,514.84 440.13,525.30 444.11,541.11 430.30,532.44 416.49,541.11 420.47,525.30 407.95,514.84 424.22,513.73" fill="#FF80C8"/><text transform="translate(527.5 544.50) scale(1 1.015)" font-size="71">(1) /SPS 10 ppm</text><line x1="351" y1="608.20" x2="511" y2="608.20" stroke="#B05808" stroke-width="2.20" stroke-opacity="0.8"/><polygon points="430.30,582.70 455.80,608.20 430.30,633.70 404.80,608.20" fill="#B05808"/><text transform="translate(527.5 631.60) scale(1 1.015)" font-size="71">(1) /SPS 15 ppm</text></g>
</svg></body></html>
